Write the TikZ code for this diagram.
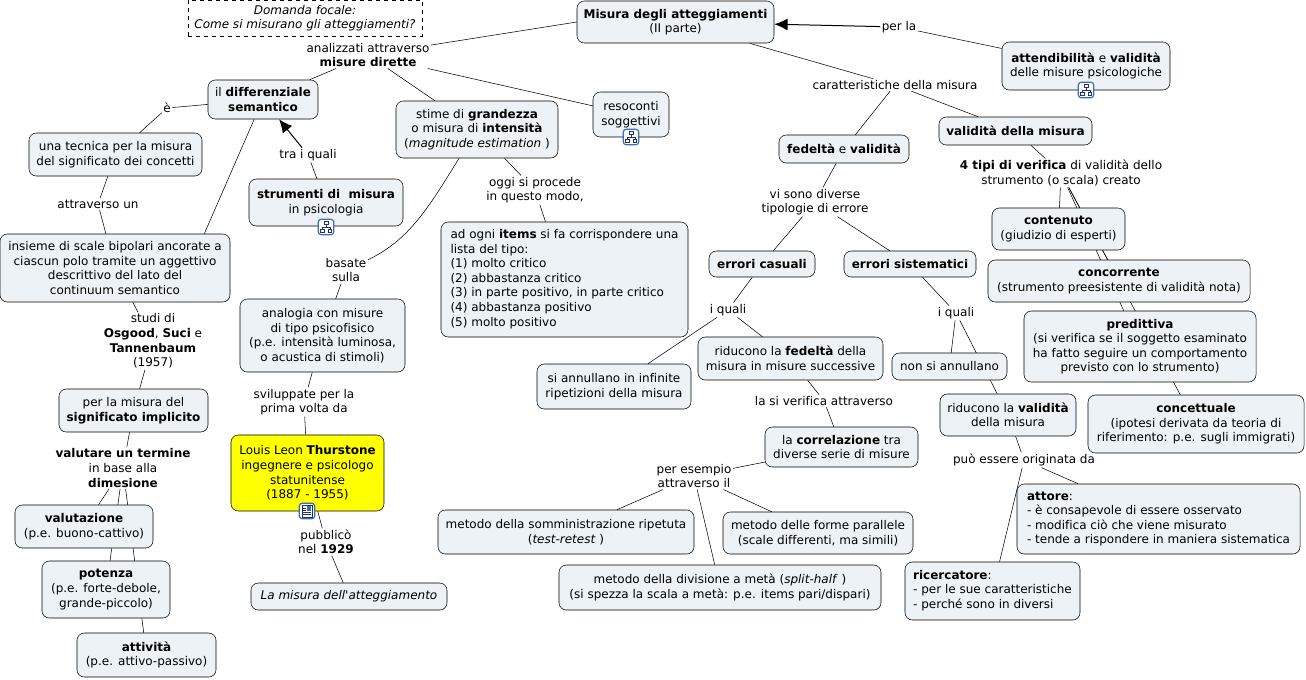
\documentclass[tikz,border=0pt]{standalone}
\usepackage{fontspec}
\setmainfont{DejaVu Sans}[Ligatures={TeXOff,NoCommon}]
\usepackage{tikz}
\usetikzlibrary{arrows.meta}
\usetikzlibrary{backgrounds}
\definecolor{conceptfill}{HTML}{ECF2F5}
\definecolor{thurstoneyellow}{RGB}{255,255,0}
\definecolor{iconblue}{HTML}{3A6EB5}
\definecolor{icondark}{HTML}{1F2F6F}
\tikzset{
  concept/.style 2 args={draw,fill=conceptfill,rectangle,rounded corners=5.5pt,inner sep=0pt,align=center,
    minimum width=#1*.75pt,minimum height=#2*.75pt},
  linkphrase/.style={inner sep=1pt,align=center},
  iconbox/.style={draw=iconblue,fill=white,rectangle,rounded corners=2pt,line width=.9pt,inner sep=0pt,
    minimum width=11.5pt,minimum height=11.5pt},
  conn/.style={line width=.75pt},
  connarrow/.style={line width=.75pt,-{Latex[length=10pt,width=9pt]}}
}
\newcommand{\treeicon}[1]{%
  \node[iconbox] (#1) {};
  \draw[icondark,line width=.45pt] (#1.center)++(0,-4)--++(0,4) (#1.center)++(-4,3)--++(0,-3)--++(8,0)--++(0,3);
  \draw[icondark,fill=white,line width=.5pt] (#1.center)++(-2,-6)rectangle++(4,3.5);
  \draw[icondark,fill=white,line width=.5pt] (#1.center)++(-5.5,2)rectangle++(3.5,3.5);
  \draw[icondark,fill=white,line width=.5pt] (#1.center)++(2,2)rectangle++(3.5,3.5);
}
\begin{document}
\begin{tikzpicture}[x=.75pt,y=-.75pt,font=\fontsize{9}{10.9}\selectfont]
\useasboundingbox (0,0) rectangle (1306,679);
\node[draw,dashed,fill=white,inner sep=0pt,align=center,minimum width=175.5pt,minimum height=27pt] (domanda) at (305,18) {\textit{Domanda focale:}\\\textit{Come si misurano gli atteggiamenti?}};
\node[concept={197}{42}] (misura) at (675.5,22) {\textbf{Misura degli atteggiamenti}\\(II parte)};
\node[linkphrase] (analizzati) at (368,55) {analizzati attraverso\\\textbf{misure dirette}};
\node[concept={110}{39}] (differenziale) at (263,99.5) {il \textbf{differenziale}\\\textbf{semantico}};
\node[linkphrase] (e) at (167,108) {è};
\node[concept={173}{43}] (tecnica) at (115.5,154.5) {una tecnica per la misura\\del significato dei concetti};
\node[linkphrase] (attraversoun) at (98,204) {attraverso un};
\node[concept={230}{68}] (insieme) at (115,268) {insieme di scale bipolari ancorate a\\ciascun polo tramite un aggettivo\\descrittivo del lato del\\continuum semantico};
\node[concept={154}{47}] (strumenti) at (326,202.5) {\textbf{strumenti di\ \ misura}\\in psicologia};
\node[linkphrase] (traiquali) at (308,155) {tra i quali};
\node[concept={162}{57}] (stime) at (477,129.5) {stime di \textbf{grandezza}\\o misura di \textbf{intensità}\\(\textit{magnitude estimation} )};
\node[concept={76}{45}] (resoconti) at (631,114.5) {resoconti\\soggettivi};
\node[linkphrase] (oggi) at (535,190) {oggi si procede\\in questo modo,};
\node[concept={247}{115}] (items) at (564.5,279.5) {\begin{tabular}{@{}l@{}}ad ogni \textbf{items} si fa corrispondere una\\lista del tipo:\\(1) molto critico\\(2) abbastanza critico\\(3) in parte positivo, in parte critico\\(4) abbastanza positivo\\(5) molto positivo\end{tabular}};
\node[linkphrase] (basate) at (346,270) {basate\\sulla};
\node[concept={165}{73}] (analogia) at (322.5,335.5) {analogia con misure\\di tipo psicofisico\\(p.e. intensità luminosa,\\o acustica di stimoli)};
\node[linkphrase] (sviluppate) at (304,402) {sviluppate per la\\prima volta da};
\node[concept={153}{76},fill=thurstoneyellow] (thurstone) at (307.5,473) {Louis Leon \textbf{Thurstone}\\ingegnere e psicologo\\statunitense\\(1887 - 1955)};
\node[linkphrase] (pubblico) at (326,542) {pubblicò\\nel \textbf{1929}};
\node[concept={196}{27}] (libro) at (349,596.5) {\textit{La misura dell'atteggiamento}};
\node[linkphrase] (studi) at (153,341) {studi di\\\textbf{Osgood}, \textbf{Suci} e\\\textbf{Tannenbaum}\\(1957)};
\node[concept={149}{43}] (significato) at (133.5,410.5) {per la misura del\\\textbf{significato implicito}};
\node[linkphrase] (valutare) at (123,468) {\textbf{valutare un termine}\\in base alla\\\textbf{dimesione}};
\node[concept={138}{43}] (valutazione) at (84,526.5) {\textbf{valutazione}\\(p.e. buono-cattivo)};
\node[concept={128}{57}] (potenza) at (106,589.5) {\textbf{potenza}\\(p.e. forte-debole,\\grande-piccolo)};
\node[concept={139}{44}] (attivita) at (146.5,655) {\textbf{attività}\\(p.e. attivo-passivo)};
\node[linkphrase] (perla) at (899,27) {per la};
\node[concept={168}{48}] (attendibilita) at (1086,66) {\textbf{attendibilità} e \textbf{validità}\\delle misure psicologiche};
\node[linkphrase] (caratteristiche) at (895,85) {caratteristiche della misura};
\node[concept={130}{28}] (fedelta) at (844,149) {\textbf{fedeltà} e \textbf{validità}};
\node[concept={153}{28}] (validita) at (1015.5,131) {\textbf{validità della misura}};
\node[linkphrase] (tipi) at (1061,173) {\textbf{4 tipi di verifica} di validità dello\\strumento (o scala) creato};
\node[concept={133}{42}] (contenuto) at (1058.5,229) {\textbf{contenuto}\\(giudizio di esperti)};
\node[concept={262}{42}] (concorrente) at (1119,281) {\textbf{concorrente}\\(strumento preesistente di validità nota)};
\node[concept={232}{71}] (predittiva) at (1140,346.5) {\textbf{predittiva}\\(si verifica se il soggetto esaminato\\ha fatto seguire un comportamento\\previsto con lo strumento)};
\node[concept={216}{58}] (concettuale) at (1196,424) {\textbf{concettuale}\\(ipotesi derivata da teoria di\\riferimento: p.e. sugli immigrati)};
\node[linkphrase] (visono) at (815,202) {vi sono diverse\\tipologie di errore};
\node[concept={106}{26}] (casuali) at (762,264) {\textbf{errori casuali}};
\node[concept={132}{26}] (sistematici) at (910,264) {\textbf{errori sistematici}};
\node[linkphrase] (iqualia) at (728,310) {i quali};
\node[linkphrase] (iqualib) at (956,313) {i quali};
\node[concept={154}{45}] (annullano) at (614,386.5) {si annullano in infinite\\ripetizioni della misura};
\node[concept={185}{43}] (riduconof) at (790.5,358.5) {riducono la \textbf{fedeltà} della\\misura in misure successive};
\node[linkphrase] (verifica) at (824,401) {la si verifica attraverso};
\node[concept={153}{40}] (correlazione) at (841.5,447) {la \textbf{correlazione} tra\\diverse serie di misure};
\node[linkphrase] (peresempio) at (694,476) {per esempio\\attraverso il};
\node[concept={256}{44}] (somministrazione) at (566,532) {metodo della somministrazione ripetuta\\(\textit{test-retest} )};
\node[concept={190}{42}] (forme) at (818,533) {metodo delle forme parallele\\(scale differenti, ma simili)};
\node[concept={322}{45}] (divisione) at (720,587.5) {metodo della divisione a metà (\textit{split-half} )\\(si spezza la scala a metà: p.e. items pari/dispari)};
\node[concept={115}{27}] (nonannullano) at (949.5,366.5) {non si annullano};
\node[concept={136}{42}] (riduconov) at (1008,415) {riducono la \textbf{validità}\\della misura};
\node[linkphrase] (puo) at (1024,460) {può essere originata da};
\node[concept={283}{70}] (attore) at (1158.5,519) {\begin{tabular}{@{}l@{}}\textbf{attore}:\\- è consapevole di essere osservato\\- modifica ciò che viene misurato\\- tende a rispondere in maniera sistematica\end{tabular}};
\node[concept={175}{58}] (ricercatore) at (992.5,591) {\begin{tabular}{@{}l@{}}\textbf{ricercatore}:\\- per le sue caratteristiche\\- perché sono in diversi\end{tabular}};
\begin{scope}[on background layer,conn]
\draw (misura.west)--(analizzati);
\draw (analizzati)--(differenziale);
\draw (analizzati)--(stime);
\draw (analizzati)--(resoconti);
\draw (differenziale)--(e);
\draw (e)--(tecnica);
\draw (tecnica)--(attraversoun);
\draw (attraversoun)--(insieme);
\draw (differenziale.-114)--(insieme.21);
\draw[connarrow] (traiquali)--(differenziale);
\draw (strumenti)--(traiquali);
\draw (stime) .. controls (430,205) and (410,240) .. (basate);
\draw (basate)--(analogia);
\draw (stime)--(oggi);
\draw (oggi)--(items);
\draw (analogia)--(sviluppate);
\draw (sviluppate)--(thurstone);
\draw (thurstone)--(pubblico);
\draw (pubblico)--(libro);
\draw (insieme)--(studi);
\draw (studi)--(significato);
\draw (significato)--(valutare);
\draw (valutare)--(valutazione);
\draw (valutare)--(potenza);
\draw (valutare)--(attivita);
\draw[connarrow] (perla)--(misura);
\draw (attendibilita)--(perla);
\draw (misura)--(caratteristiche);
\draw (caratteristiche)--(fedelta);
\draw (caratteristiche)--(validita);
\draw (validita)--(tipi);
\draw (tipi)--(contenuto);
\draw (tipi)--(concorrente);
\draw (tipi)--(predittiva);
\draw (tipi)--(concettuale);
\draw (fedelta)--(visono);
\draw (visono)--(casuali);
\draw (visono)--(sistematici);
\draw (casuali)--(iqualia);
\draw (iqualia)--(annullano);
\draw (iqualia)--(riduconof);
\draw (riduconof)--(verifica);
\draw (verifica)--(correlazione);
\draw (correlazione)--(peresempio);
\draw (peresempio)--(somministrazione);
\draw (peresempio)--(forme);
\draw (peresempio)--(divisione);
\draw (sistematici)--(iqualib);
\draw (iqualib)--(nonannullano);
\draw (iqualib)--(riduconov);
\draw (riduconov)--(puo);
\draw (puo)--(attore);
\draw (puo)--(ricercatore);
\end{scope}
\begin{scope}[shift={(326,227)}] \treeicon{iconstrumenti} \end{scope}
\begin{scope}[shift={(631,137)}] \treeicon{iconresoconti} \end{scope}
\begin{scope}[shift={(1086,90)}] \treeicon{iconattendibilita} \end{scope}
\node[iconbox] (iconthurstone) at (307,511) {};
\draw[icondark,fill=white,line width=.5pt] (iconthurstone.center)++(-5,-6)rectangle++(10,12);
\fill[iconblue] (iconthurstone.center)++(-.5,-5)rectangle++(4.5,5);
\draw[icondark,line width=.4pt] (iconthurstone.center)++(-4,1.5)--++(8,0) (iconthurstone.center)++(-4,3.5)--++(8,0) (iconthurstone.center)++(-4,-3)--++(3,0) (iconthurstone.center)++(-4,-1)--++(3,0);
\end{tikzpicture}
\end{document}
